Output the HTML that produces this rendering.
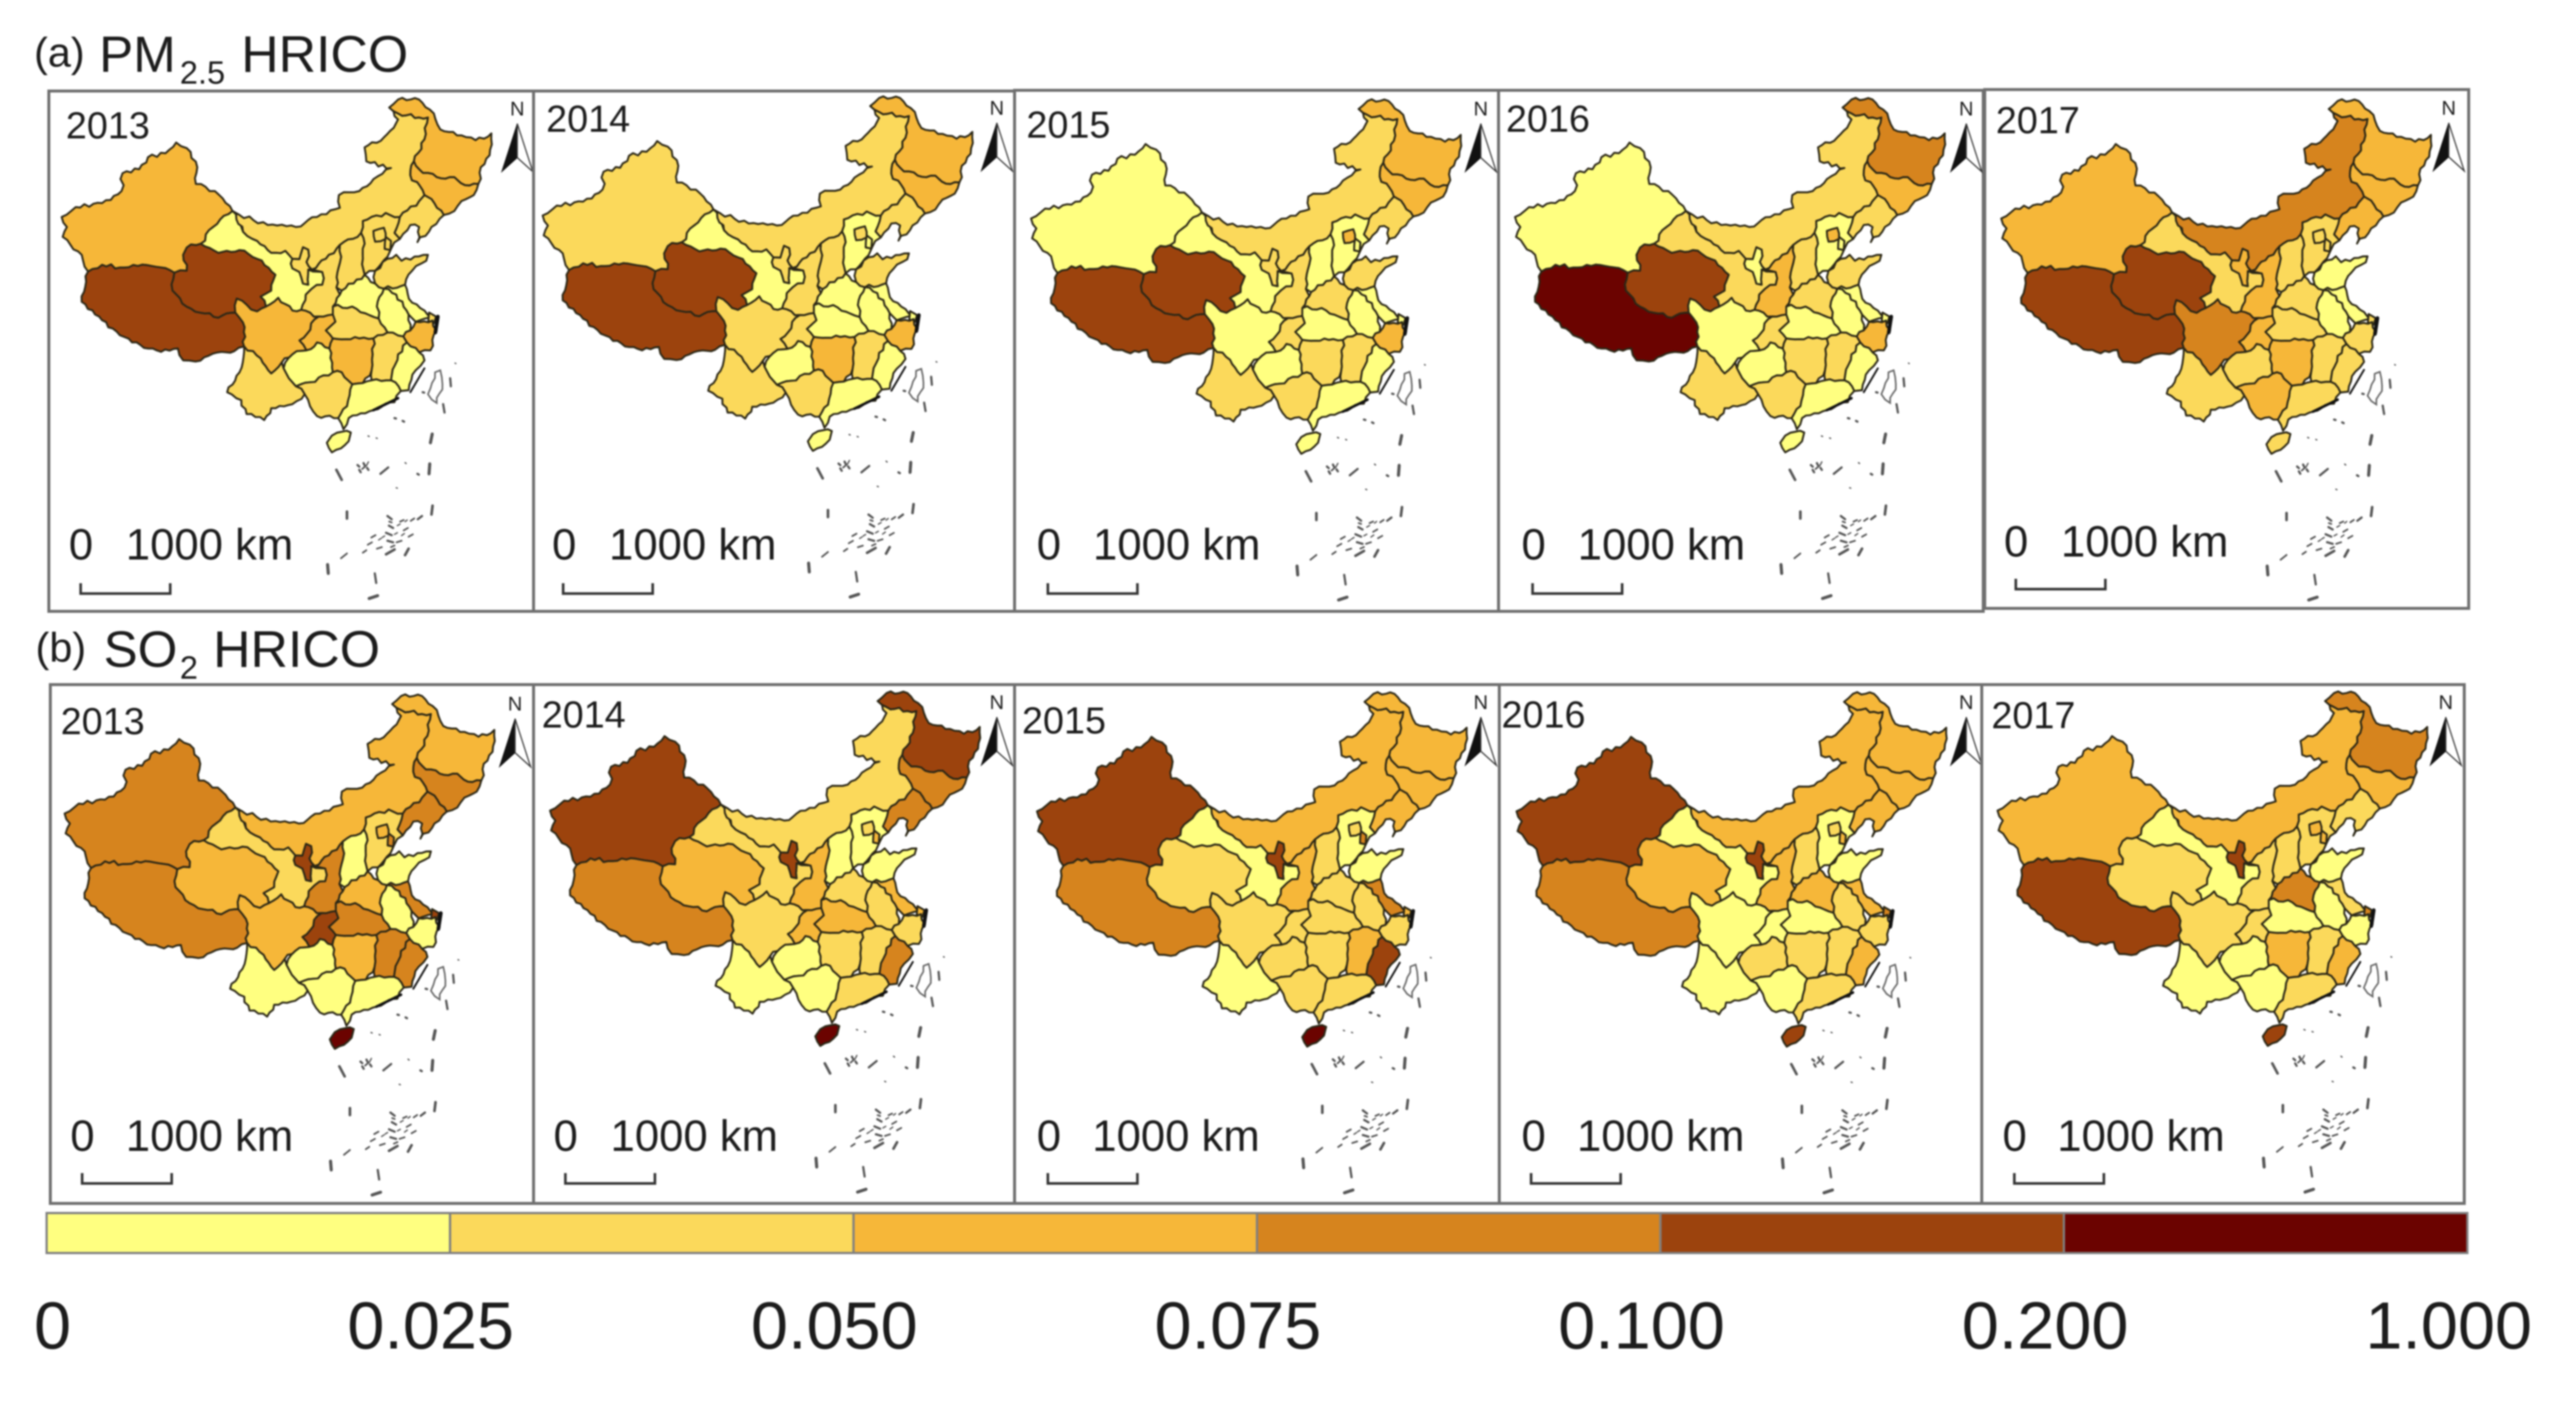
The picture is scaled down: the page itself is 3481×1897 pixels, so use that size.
<!DOCTYPE html>
<html lang="en">
<head>
<meta charset="utf-8">
<title>PM2.5 and SO2 HRICO maps</title>
<style>
html,body{margin:0;padding:0;background:#fff;width:3481px;height:1897px;overflow:hidden}
svg{display:block;filter:blur(1.1px)}
text{font-family:"Liberation Sans",Arial,sans-serif;fill:#1c1c1c}
</style>
</head>
<body>
<svg id="figure" xmlns="http://www.w3.org/2000/svg" width="3481" height="1897" viewBox="0 0 3481 1897">
  <rect x="0" y="0" width="3481" height="1897" fill="#fff"/>
  <g>
    <text x="46" y="90" font-size="56">(a)</text>
    <text x="134" y="97" font-size="69">PM</text>
    <text x="243" y="113" font-size="44">2.5</text>
    <text x="326" y="97" font-size="70">HRICO</text>
  </g>
  <g>
    <text x="48" y="894" font-size="56">(b)</text>
    <text x="140" y="901" font-size="69">SO</text>
    <text x="243" y="917" font-size="44">2</text>
    <text x="288" y="901" font-size="70">HRICO</text>
  </g>
  <g id="panels"></g>
  <g id="legend"></g>
</svg>
<script>
// ---- chart data (HRICO estimated per province, read from the map classes) ----
const provinces = ["Xinjiang","Tibet","Qinghai","Gansu","Inner Mongolia","Heilongjiang","Jilin","Liaoning","Hebei","Beijing","Tianjin","Shanxi","Shandong","Shaanxi","Ningxia","Henan","Jiangsu","Anhui","Shanghai","Zhejiang","Hubei","Chongqing","Sichuan","Guizhou","Hunan","Jiangxi","Fujian","Guangdong","Guangxi","Yunnan","Hainan"];
const years = ["2013","2014","2015","2016","2017"];
const legendBreaks = [0,0.025,0.05,0.075,0.1,0.2,1];
const legendLabels = ["0","0.025","0.050","0.075","0.100","0.200","1.000"];
const legendColors = ["#FFFF80","#FBD95B","#F6B739","#D6841E","#9C430D","#6B0300"];

const pm25_2013 = [.062,.15,.15,.012,.04,.062,.062,.04,.04,.04,.04,.04,.04,.04,.04,.012,.012,.012,.04,.062,.04,.062,.062,.012,.062,.04,.012,.012,.04,.04,.012];
const pm25_2014 = [.04,.15,.15,.012,.04,.062,.062,.04,.012,.04,.012,.04,.04,.04,.04,.012,.012,.012,.012,.062,.012,.04,.04,.012,.062,.04,.012,.012,.04,.04,.012];
const pm25_2015 = [.012,.15,.15,.012,.04,.062,.062,.04,.012,.062,.012,.012,.04,.04,.04,.04,.012,.012,.012,.062,.012,.04,.012,.012,.04,.04,.012,.012,.04,.04,.012];
const pm25_2016 = [.012,.3,.15,.04,.04,.088,.062,.04,.012,.062,.012,.04,.04,.062,.012,.04,.012,.012,.012,.062,.012,.04,.012,.012,.04,.04,.012,.012,.04,.04,.012];
const pm25_2017 = [.062,.15,.15,.04,.088,.062,.062,.062,.04,.04,.04,.04,.012,.062,.062,.04,.012,.012,.04,.04,.04,.062,.088,.04,.062,.04,.04,.04,.062,.04,.04];

const so2_2013 = [.088,.088,.062,.04,.062,.062,.088,.088,.04,.062,.088,.012,.012,.088,.15,.062,.088,.012,.15,.012,.088,.15,.062,.012,.062,.088,.088,.012,.012,.012,.3];
const so2_2014 = [.15,.088,.062,.04,.04,.15,.088,.088,.012,.04,.062,.012,.012,.062,.15,.04,.062,.04,.062,.04,.062,.062,.04,.012,.04,.04,.088,.04,.012,.012,.3];
const so2_2015 = [.15,.088,.04,.012,.062,.062,.062,.062,.012,.04,.088,.04,.012,.062,.15,.04,.088,.04,.062,.04,.04,.04,.04,.04,.04,.062,.15,.04,.04,.012,.3];
const so2_2016 = [.15,.088,.062,.012,.062,.062,.062,.062,.012,.04,.062,.04,.012,.062,.15,.062,.062,.04,.088,.04,.012,.012,.012,.04,.04,.04,.062,.04,.012,.012,.15];
const so2_2017 = [.062,.15,.04,.012,.062,.088,.062,.04,.04,.062,.062,.04,.012,.04,.15,.088,.04,.012,.088,.012,.012,.04,.04,.012,.062,.04,.062,.04,.012,.012,.15];

const pmSeries = [pm25_2013,pm25_2014,pm25_2015,pm25_2016,pm25_2017];
const so2Series = [so2_2013,so2_2014,so2_2015,so2_2016,so2_2017];

// ---- layout (page geometry, not data) ----
const rowA = {
  series: pmSeries, key: "pm25",
  frames: [[66,123,655,703],[721,123,650,703],[1371,122,654,704],[2025,122,655,704],[2682,121,654,701]],
  mapOff: [[0,0],[650,-2],[1310,2],[1964,0],[2621,2]],
  yearPos: [[89,187],[738,178],[1387,186],[2035,178],[2697,180]],
  scalePos: [[93,756,170,109,788],[746,756,823,761,788],[1401,756,1477,1416,788],[2056,756,2132,2071,788],[2708,752,2785,2724,782]],
  arrowPos: [[699,167],[1347,166],[2001,167],[2657,167],[3309,166]]
};
const rowB = {
  series: so2Series, key: "so2",
  frames: [[68,925,653,701],[721,925,650,701],[1371,925,655,701],[2026,925,652,701],[2678,925,652,701]],
  mapOff: [[4,806],[660,802],[1318,803],[1966,803],[2616,802]],
  yearPos: [[82,992],[732,983],[1381,991],[2029,983],[2691,984]],
  scalePos: [[95,1555,170,111,1585],[748,1555,825,764,1585],[1401,1555,1476,1416,1585],[2056,1555,2131,2069,1585],[2706,1555,2780,2722,1585]],
  arrowPos: [[696,971],[1347,969],[2001,969],[2657,969],[3305,969]]
};

// province outlines in base map units; same order as the provinces array
const shapes = [
 [175,545,215,520,290,510,345,480,348,435,395,425,420,395,470,385,500,358,530,372,560,420,556,462,610,480,660,530,605,570,570,612,530,622,520,640,530,680,495,685,430,668,340,672,290,665,250,682,232,640,200,615,178,595,190,570],
 [250,682,290,665,340,672,430,668,495,685,490,730,530,770,620,798,668,785,690,810,693,870,665,882,605,888,555,908,520,905,505,875,445,880,375,860,320,825,270,790,232,758,242,720],
 [530,622,570,612,620,635,680,628,730,650,782,690,770,730,740,745,755,770,730,782,700,765,672,750,668,785,620,798,530,770,490,730,495,685,530,680,520,640],
 [570,612,605,570,660,530,680,540,690,582,730,605,770,635,810,630,830,650,830,674,850,683,860,712,875,715,875,677,915,683,915,715,885,725,868,740,855,778,830,780,790,748,755,770,740,745,770,730,782,690,730,650,680,628,620,635],
 [660,530,680,540,760,565,840,570,900,545,965,522,962,490,1020,480,1060,450,1110,422,1040,405,1035,370,1090,345,1130,300,1105,270,1130,285,1190,295,1215,295,1205,350,1175,405,1165,440,1205,490,1190,505,1135,545,1095,535,1030,555,1025,585,965,615,925,650,885,677,870,658,875,627,860,621,850,651,830,650,810,630,770,635,730,605,690,582],
 [1105,270,1130,250,1190,250,1220,275,1250,325,1310,340,1350,352,1395,335,1390,390,1365,420,1358,462,1320,465,1290,445,1240,445,1190,425,1175,405,1205,350,1215,295,1190,295,1130,285],
 [1175,405,1190,425,1240,445,1290,445,1320,465,1358,462,1345,490,1310,505,1290,530,1260,540,1225,500,1205,490,1165,440],
 [1135,545,1190,505,1205,490,1225,500,1260,540,1225,570,1185,608,1190,570,1165,565,1135,600,1120,585],
 [1025,585,1030,555,1095,535,1135,545,1120,585,1135,600,1110,625,1100,645,1065,680,1035,690,1030,650,1035,612],
 [1060,580,1090,572,1095,600,1065,607],
 [1095,595,1110,605,1108,628,1092,625],
 [965,615,1025,585,1035,612,1030,650,1035,690,970,730,955,722,965,660],
 [1065,680,1100,650,1125,640,1140,655,1215,640,1210,655,1170,680,1150,715,1090,725,1065,712],
 [925,650,965,615,965,660,955,722,965,740,945,770,945,790,905,795,855,778,868,740,885,725,915,715,915,683,885,677],
 [860,621,875,627,870,658,885,677,875,677,875,715,860,712,850,683,830,674,830,650,850,651],
 [965,740,970,730,1035,690,1065,712,1090,725,1070,770,1075,800,1000,770,945,770],
 [1090,725,1150,715,1170,760,1205,780,1228,800,1180,808,1160,790,1125,740],
 [1070,770,1090,725,1125,740,1160,790,1165,830,1145,845,1100,835,1075,800],
 [1218,785,1238,795,1232,812,1216,806],
 [1145,845,1165,830,1180,808,1228,805,1240,830,1222,880,1190,885,1155,860],
 [945,790,945,770,1000,770,1075,800,1100,835,1060,850,1020,850,945,850,925,830,952,808],
 [850,855,905,795,945,790,952,808,925,830,945,850,935,875,900,860,870,880],
 [672,750,700,765,730,782,755,770,790,748,830,780,855,778,905,795,850,855,870,880,830,890,800,910,770,938,740,900,693,870,690,810,668,785],
 [805,925,830,890,870,880,900,860,935,875,945,935,880,960,840,970,820,950],
 [945,850,1020,850,1060,850,1055,930,1030,962,1000,965,970,935,945,935,935,875],
 [1060,850,1100,835,1145,845,1155,860,1130,890,1110,955,1055,955,1055,930],
 [1130,890,1155,860,1190,885,1205,905,1180,930,1160,980,1138,982,1110,955],
 [1000,965,1030,962,1055,955,1110,955,1138,982,1120,1010,1060,1030,990,1050,975,1078,960,1050,985,1020],
 [865,990,840,970,880,960,945,935,970,935,1000,965,985,1020,960,1050,900,1045,880,1020],
 [693,870,740,900,770,938,800,910,805,925,820,950,840,970,865,990,830,1015,770,1025,750,1055,700,1040,685,1005,645,985,680,935],
 [928,1112,942,1094,972,1084,996,1086,990,1108,968,1126,942,1136]
];
const taiwanShape = [1250,930,1235,935,1222,975,1215,990,1240,1012,1256,965];
const islandMarks = [
 [1120,1050,1124,1051,5],[1143,1057,1147,1059,5],[1045,1095,1048,1096,3],[1068,1100,1071,1101,3],[1227,1090,1222,1112,7],
 [955,1180,970,1205,6],[1015,1168,1020,1172,5],[1032,1163,1036,1170,5],[1042,1175,1046,1180,5],[1020,1180,1024,1186,5],
 [1080,1190,1102,1174,5],[1150,1162,1153,1164,3],[1185,1190,1189,1192,5],[1220,1165,1218,1190,7],[1125,1225,1128,1226,3],
 [985,1285,985,1302,6],[1228,1270,1225,1292,6],[1100,1296,1112,1304,5],[1104,1320,1116,1326,5],[1096,1338,1112,1344,5],
 [1100,1358,1116,1362,5],[1136,1310,1146,1306,4],[1166,1308,1176,1302,4],[1186,1304,1198,1296,5],[1146,1332,1158,1326,4],
 [1160,1348,1172,1342,4],[1126,1362,1140,1358,4],[1054,1350,1066,1344,4],[1044,1368,1056,1362,4],[1030,1388,1040,1382,4],
 [1070,1378,1084,1374,4],[1096,1392,1120,1380,6],[1150,1394,1160,1378,6],[985,1390,968,1402,4],[930,1418,932,1440,7],
 [1064,1440,1068,1464,5],[1048,1503,1072,1496,7],[1278,950,1280,970,5],[1258,1015,1262,1036,5],[1292,912,1294,913,3],[1200,985,1204,986,5],
 [1128,1320,1136,1316,3],[1150,1310,1156,1306,3],[1120,1342,1128,1338,3],[1140,1345,1148,1340,3],[1085,1350,1092,1346,3],
 [1075,1356,1082,1352,3],[1105,1310,1112,1312,4],[1110,1374,1120,1370,4],[1040,1170,1046,1160,3],[1028,1178,1036,1172,4]
];
const coastMarks = [[1243,795,1236,835,5],[1205,925,1165,985,2.5],[1130,1000,1060,1030,3.5]];

// ---- scales ----
const mapX = v => v * 0.476;
const mapY = v => v * 0.538;
function classIndex(value){
  for(let i = legendBreaks.length - 2; i >= 0; i--){
    if(value >= legendBreaks[i]) return i;
  }
  return 0;
}
const colorScale = value => legendColors[classIndex(value)];
const legendSwatchX = i => 63 + i * 545.2;
const legendLabelX = i => i === 0 ? 71 : 582 + (i - 1) * 545.4;

// ---- helpers ----
const NS = "http://www.w3.org/2000/svg";
function make(tag, attrs, parent){
  const el = document.createElementNS(NS, tag);
  for(const k in attrs) el.setAttribute(k, attrs[k]);
  parent.appendChild(el);
  return el;
}
function noise(x, y){
  const s = Math.sin(x * 12.9898 + y * 78.233) * 43758.5453;
  return (s - Math.floor(s)) - 0.5;
}
// roughen an outline so shared borders stay matched between neighbours
function roughPoints(flat){
  const out = [];
  const n = flat.length / 2;
  for(let i = 0; i < n; i++){
    const ax = flat[2*i], ay = flat[2*i+1];
    const bx = flat[(2*i+2) % flat.length], by = flat[(2*i+3) % flat.length];
    out.push([ax, ay]);
    const len = Math.hypot(bx-ax, by-ay);
    const steps = Math.floor(len / 12);
    if(steps < 2) continue;
    const swap = ax > bx || (ax === bx && ay > by);
    const px = swap ? bx : ax, py = swap ? by : ay;
    const qx = swap ? ax : bx, qy = swap ? ay : by;
    const nx = -(qy-py)/len, ny = (qx-px)/len;
    const inner = [];
    for(let s = 1; s < steps; s++){
      const t = s / steps;
      const mx = px + (qx-px)*t, my = py + (qy-py)*t;
      const a = 10 * noise(Math.round(mx), Math.round(my));
      inner.push([mx + nx*a, my + ny*a]);
    }
    if(swap) inner.reverse();
    inner.forEach(p => out.push(p));
  }
  return out;
}
const roughShapes = shapes.map(roughPoints);
function pathFrom(points, ox, oy){
  return points.map((p, i) => (i ? "L" : "M") + (mapX(p[0]) + ox).toFixed(1) + " " + (mapY(p[1]) + oy).toFixed(1)).join("") + "Z";
}

// ---- draw panels ----
const panelsRoot = document.getElementById("panels");
function drawRow(row){
  years.forEach((year, yi) => {
    const values = row.series[yi];
    const [fx, fy, fw, fh] = row.frames[yi];
    const [ox, oy] = row.mapOff[yi];
    const panel = make("g", {}, panelsRoot);
    
    

    const frame = make("rect", {x: fx, y: fy, width: fw, height: fh, fill: "none", stroke: "#6f6f6f", "stroke-width": 4}, panel);
    
    

    provinces.forEach((name, pi) => {
      const region = make("path", {
        d: pathFrom(roughShapes[pi], ox, oy),
        fill: colorScale(values[pi]),
        stroke: "#2b2716", "stroke-width": 2.6, "stroke-linejoin": "round"
      }, panel);
      
      
    });

    const taiwan = make("path", {d: pathFrom(roughPoints(taiwanShape), ox, oy), fill: "#fff", stroke: "#666", "stroke-width": 2.2}, panel);
    
    

    const isles = make("g", {stroke: "#555", "stroke-linecap": "round", fill: "none"}, panel);
    
    
    islandMarks.forEach(m => {
      make("line", {x1: mapX(m[0])+ox, y1: mapY(m[1])+oy, x2: mapX(m[2])+ox, y2: mapY(m[3])+oy, "stroke-width": m[4]*0.6}, isles);
    });
    coastMarks.forEach(m => {
      make("line", {x1: mapX(m[0])+ox, y1: mapY(m[1])+oy, x2: mapX(m[2])+ox, y2: mapY(m[3])+oy, "stroke-width": m[4], stroke: "#111"}, isles);
    });

    const [yx, yy] = row.yearPos[yi];
    const yearText = make("text", {x: yx, y: yy, "font-size": 51}, panel);
    yearText.textContent = year;
    
    

    const [zx, sy, kx, bx, by] = row.scalePos[yi];
    const zero = make("text", {x: zx, y: sy, "font-size": 59}, panel);
    zero.textContent = "0";
    
    
    const km = make("text", {x: kx, y: sy, "font-size": 59}, panel);
    km.textContent = "1000 km";
    
    
    const bar = make("path", {d: "M"+bx+" "+by+"V"+(by+14)+"H"+(bx+121)+"V"+by, fill: "none", stroke: "#333", "stroke-width": 3.5}, panel);
    
    

    const [ax, ay] = row.arrowPos[yi];
    const north = make("g", {}, panel);
    
    
    const nLabel = make("text", {x: ax, y: ay-11, "font-size": 27, "text-anchor": "middle"}, north);
    nLabel.textContent = "N";
    
    
    make("path", {d: "M"+ax+" "+ay+"L"+(ax-21)+" "+(ay+65)+"L"+ax+" "+(ay+46)+"Z", fill: "#111", stroke: "#111", "stroke-width": 1}, north);
    make("path", {d: "M"+ax+" "+ay+"L"+(ax+21)+" "+(ay+65)+"L"+ax+" "+(ay+46)+"Z", fill: "#fff", stroke: "#333", "stroke-width": 1.6}, north);
  });
}
drawRow(rowA);
drawRow(rowB);

// ---- legend ----
const legendRoot = document.getElementById("legend");
legendColors.forEach((color, i) => {
  const swatch = make("rect", {x: legendSwatchX(i), y: 1639, width: 545.2, height: 54, fill: color, stroke: "#808080", "stroke-width": 3}, legendRoot);
  
  
});
legendLabels.forEach((label, i) => {
  const t = make("text", {x: legendLabelX(i), y: 1822, "font-size": 90, "text-anchor": "middle"}, legendRoot);
  t.textContent = label;
  
  
});
</script>
</body>
</html>
